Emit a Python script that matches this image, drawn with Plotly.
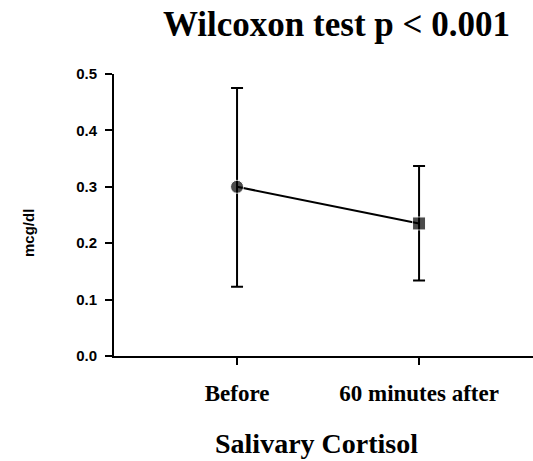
import plotly.graph_objects as go

categories = ["Before", "60 minutes after"]
means = [0.300, 0.235]
err_plus = [0.175, 0.102]
err_minus = [0.177, 0.101]
symbols = ["circle", "square"]
y_ticks = [0.0, 0.1, 0.2, 0.3, 0.4, 0.5]

xpos = list(range(len(categories)))

fig = go.Figure()
fig.add_trace(go.Scatter(
    x=xpos, y=means, mode="lines+markers",
    line=dict(color="black", width=2),
    marker=dict(symbol=symbols, size=[13, 13], color="black"),
    error_y=dict(type="data", array=err_plus, arrayminus=err_minus,
                 color="black", thickness=2, width=6),
    showlegend=False,
))

fig.update_layout(
    width=533, height=461,
    margin=dict(l=114, r=0, t=74, b=105),
    paper_bgcolor="white", plot_bgcolor="white",
    xaxis=dict(
        range=[-0.676, 1.626], tickvals=xpos, ticktext=categories,
        showline=True, linecolor="black", linewidth=2,
        ticks="outside", ticklen=7, tickwidth=2, tickcolor="black",
        showgrid=False, zeroline=False,
        tickfont=dict(family="Liberation Serif", size=23, color="black", weight="bold"),
        ticklabelstandoff=8,
    ),
    yaxis=dict(
        range=[0, 0.5], tickvals=y_ticks, tickformat=".1f",
        showline=True, linecolor="black", linewidth=2,
        ticks="outside", ticklen=7, tickwidth=2, tickcolor="black",
        showgrid=False, zeroline=False,
        tickfont=dict(family="Liberation Sans", size=15, color="black", weight="bold"),
        ticklabelstandoff=5,
    ),
    annotations=[
        dict(text="Wilcoxon test p &lt; 0.001", xref="paper", yref="paper",
             x=0.532, y=(356 - 24) / 282, xanchor="center", yanchor="middle",
             showarrow=False,
             font=dict(family="Liberation Serif", size=35, color="black", weight="bold")),
        dict(text="Salivary Cortisol", xref="paper", yref="paper",
             x=(316 - 114) / 419, y=(356 - 443) / 282, xanchor="center", yanchor="middle",
             showarrow=False,
             font=dict(family="Liberation Serif", size=28, color="black", weight="bold")),
        dict(text="mcg/dl", xref="paper", yref="paper", textangle=-90,
             x=(28 - 114) / 419, y=(356 - 233) / 282, xanchor="center", yanchor="middle",
             showarrow=False,
             font=dict(family="Liberation Sans", size=15, color="black", weight="bold")),
    ],
)

fig.write_html("out.html", config={"displayModeBar": False},
               post_script="document.body.style.margin='0';")
